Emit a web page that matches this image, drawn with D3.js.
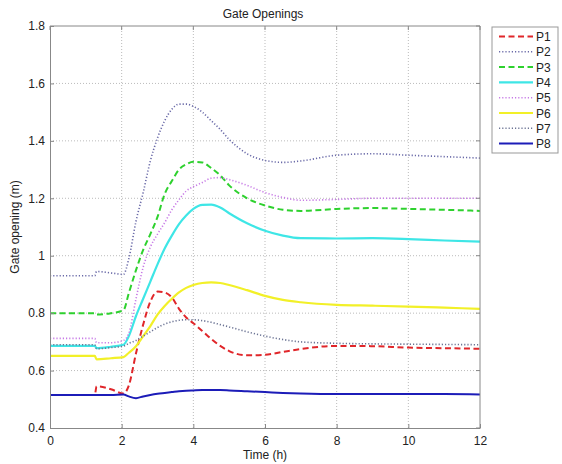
<!DOCTYPE html>
<html>
<head>
<meta charset="utf-8">
<script src="https://cdn.jsdelivr.net/npm/d3@7"></script>
<style>
  body { margin: 0; background: #fff; }
  text { font-family: "Liberation Sans", Arial, sans-serif; }
</style>
</head>
<body>
<div id="chart"></div>
<script>
// time grid (h), shared by all series
var time = [0, 1.25, 1.3, 1.7, 2.05, 2.2, 2.4, 2.6, 2.8, 3.0, 3.2, 3.4, 3.6, 3.8, 4.0, 4.25, 4.5, 4.75, 5.0, 5.5, 6.0, 6.5, 7.0, 8.0, 9.0, 10, 11, 12];

var p1 = [0.515, 0.515, 0.545, 0.535, 0.52, 0.548, 0.66, 0.76, 0.84, 0.875, 0.872, 0.855, 0.815, 0.785, 0.765, 0.738, 0.71, 0.686, 0.668, 0.653, 0.655, 0.665, 0.675, 0.686, 0.685, 0.68, 0.678, 0.676];
var p2 = [0.93, 0.93, 0.945, 0.94, 0.935, 0.99, 1.12, 1.22, 1.33, 1.41, 1.47, 1.51, 1.528, 1.528, 1.52, 1.50, 1.47, 1.44, 1.405, 1.355, 1.332, 1.325, 1.33, 1.35, 1.355, 1.35, 1.345, 1.34];
var p3 = [0.80, 0.80, 0.795, 0.80, 0.81, 0.87, 0.95, 1.02, 1.075, 1.135, 1.215, 1.26, 1.30, 1.318, 1.327, 1.325, 1.305, 1.28, 1.245, 1.20, 1.175, 1.16, 1.156, 1.163, 1.166, 1.163, 1.16, 1.156];
var p4 = [0.686, 0.686, 0.678, 0.683, 0.69, 0.72, 0.79, 0.85, 0.91, 0.97, 1.025, 1.07, 1.11, 1.14, 1.163, 1.177, 1.178, 1.168, 1.148, 1.113, 1.087, 1.07, 1.061, 1.06, 1.061, 1.058, 1.053, 1.049];
var p5 = [0.712, 0.712, 0.697, 0.697, 0.705, 0.73, 0.85, 0.96, 1.03, 1.075, 1.115, 1.16, 1.195, 1.225, 1.24, 1.255, 1.27, 1.272, 1.265, 1.245, 1.22, 1.203, 1.193, 1.196, 1.20, 1.20, 1.20, 1.20];
var p6 = [0.651, 0.651, 0.639, 0.643, 0.647, 0.662, 0.685, 0.72, 0.755, 0.795, 0.825, 0.85, 0.872, 0.888, 0.898, 0.905, 0.907, 0.905, 0.898, 0.88, 0.86, 0.846, 0.838, 0.829, 0.826, 0.823, 0.819, 0.815];
var p7 = [0.69, 0.69, 0.676, 0.68, 0.685, 0.695, 0.705, 0.72, 0.735, 0.75, 0.762, 0.77, 0.775, 0.777, 0.777, 0.774, 0.768, 0.76, 0.752, 0.735, 0.72, 0.708, 0.70, 0.695, 0.693, 0.692, 0.691, 0.69];
var p8 = [0.515, 0.515, 0.515, 0.515, 0.517, 0.51, 0.504, 0.51, 0.515, 0.519, 0.522, 0.525, 0.528, 0.53, 0.531, 0.532, 0.532, 0.532, 0.531, 0.528, 0.525, 0.522, 0.52, 0.518, 0.518, 0.518, 0.518, 0.517];

var names = ['P1', 'P2', 'P3', 'P4', 'P5', 'P6', 'P7', 'P8'];
var values = [p1, p2, p3, p4, p5, p6, p7, p8];

var xTicks = [0, 2, 4, 6, 8, 10, 12];
var yTicks = [0.4, 0.6, 0.8, 1, 1.2, 1.4, 1.6, 1.8];

// line styles
var colors = ['#e0262a', '#6a6aa8', '#2ed12e', '#3ee6e6', '#c77ae6', '#f2f028', '#6c7494', '#1c1cb8'];
var dashes = ['6,3.5', '1.2,2', '6,3.5', null, '1.2,2', null, '1.2,2', null];
var widths = [2, 1.6, 2, 2.2, 1.6, 2.2, 1.6, 2];

var W = 562, H = 464;
var m = {left: 50, right: 82, top: 26, bottom: 36};

var svg = d3.select('#chart').append('svg')
  .attr('width', W)
  .attr('height', H);

var x = d3.scaleLinear().domain([0, 12]).range([m.left, W - m.right]);
var y = d3.scaleLinear().domain([0.4, 1.8]).range([H - m.bottom, m.top]);

// grid
svg.append('g').selectAll('line').data(xTicks.slice(1, -1)).join('line')
  .attr('x1', d => x(d)).attr('x2', d => x(d))
  .attr('y1', y(0.4)).attr('y2', y(1.8))
  .attr('stroke', '#bbb').attr('stroke-dasharray', '1,2');
svg.append('g').selectAll('line').data(yTicks.slice(1, -1)).join('line')
  .attr('y1', d => y(d)).attr('y2', d => y(d))
  .attr('x1', x(0)).attr('x2', x(12))
  .attr('stroke', '#bbb').attr('stroke-dasharray', '1,2');

// lines
var line = d3.line()
  .x((d, i) => x(time[i]))
  .y(d => y(d))
  .curve(d3.curveMonotoneX);

svg.append('g').selectAll('path').data(values).join('path')
  .attr('d', d => line(d))
  .attr('fill', 'none')
  .attr('stroke', (d, i) => colors[i])
  .attr('stroke-width', (d, i) => widths[i])
  .attr('stroke-dasharray', (d, i) => dashes[i]);

// axes
var axisColor = '#888';
var xAxis = svg.append('g')
  .attr('transform', 'translate(0,' + y(0.4) + ')')
  .call(d3.axisBottom(x).tickValues(xTicks).tickSizeInner(-4).tickSizeOuter(0).tickPadding(8));
var yAxis = svg.append('g')
  .attr('transform', 'translate(' + x(0) + ',0)')
  .call(d3.axisLeft(y).tickValues(yTicks).tickFormat(d => +d.toFixed(1)).tickSizeInner(-4).tickSizeOuter(0).tickPadding(5));
[xAxis, yAxis].forEach(function(a) {
  a.select('.domain').attr('stroke', axisColor);
  a.selectAll('.tick line').attr('stroke', axisColor);
  a.selectAll('.tick text').attr('font-size', 12).attr('fill', '#222')
    .style('font-family', '"Liberation Sans", Arial, sans-serif');
});

// top and right frame
svg.append('line').attr('x1', x(0)).attr('x2', x(12)).attr('y1', y(1.8)).attr('y2', y(1.8)).attr('stroke', axisColor);
svg.append('line').attr('x1', x(12)).attr('x2', x(12)).attr('y1', y(1.8)).attr('y2', y(0.4)).attr('stroke', axisColor);
svg.append('g').selectAll('line').data(xTicks).join('line')
  .attr('x1', d => x(d)).attr('x2', d => x(d))
  .attr('y1', y(1.8)).attr('y2', y(1.8) + 4).attr('stroke', axisColor);
svg.append('g').selectAll('line').data(yTicks).join('line')
  .attr('y1', d => y(d)).attr('y2', d => y(d))
  .attr('x1', x(12)).attr('x2', x(12) - 4).attr('stroke', axisColor);

// title and labels
svg.append('text')
  .text('Gate Openings')
  .attr('x', (x(0) + x(12)) / 2 - 2)
  .attr('y', 18)
  .attr('text-anchor', 'middle')
  .attr('font-size', 12)
  .attr('fill', '#222');

svg.append('text')
  .text('Time (h)')
  .attr('x', (x(0) + x(12)) / 2)
  .attr('y', 459)
  .attr('text-anchor', 'middle')
  .attr('font-size', 12)
  .attr('fill', '#222');

svg.append('text')
  .text('Gate opening (m)')
  .attr('transform', 'translate(19,' + (y(1.1)) + ') rotate(-90)')
  .attr('text-anchor', 'middle')
  .attr('font-size', 12)
  .attr('fill', '#222');

// legend
var lg = svg.append('g').attr('transform', 'translate(492,27)');
lg.append('rect')
  .attr('width', 66).attr('height', 126)
  .attr('fill', '#fff').attr('stroke', '#999');
var item = lg.selectAll('g').data(names).join('g')
  .attr('transform', (d, i) => 'translate(0,' + (9.5 + i * 15.3) + ')');
item.append('line')
  .attr('x1', 7).attr('x2', 41)
  .attr('stroke', (d, i) => colors[i])
  .attr('stroke-width', (d, i) => widths[i])
  .attr('stroke-dasharray', (d, i) => dashes[i]);
item.append('text')
  .text(d => d)
  .attr('x', 44).attr('y', 4.5)
  .attr('font-size', 12)
  .attr('fill', '#222');
</script>
</body>
</html>
